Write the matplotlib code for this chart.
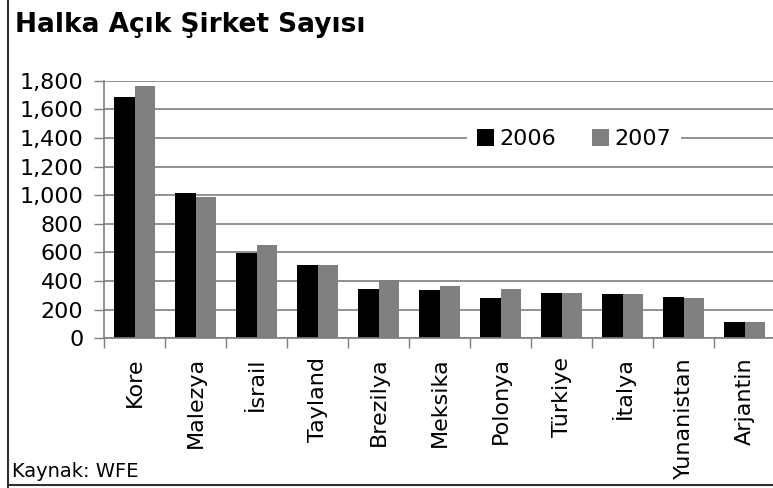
import numpy as np
import matplotlib
matplotlib.use("Agg")
import matplotlib.pyplot as plt
from matplotlib.lines import Line2D

# dados
paises = ['Kore', 'Malezya', 'İsrail', 'Tayland', 'Brezilya', 'Meksika',
          'Polonya', 'Türkiye', 'İtalya', 'Yunanistan', 'Arjantin']
valores_2006 = [1684, 1015, 598, 512, 345, 338, 282, 319, 310, 289, 114]
valores_2007 = [1763, 987, 652, 512, 405, 365, 345, 317, 310, 282, 114]
anos = ['2006', '2007']
yticks = [0, 200, 400, 600, 800, 1000, 1200, 1400, 1600, 1800]

plt.rcParams['font.family'] = ['DejaVu Sans']
CINZA_GRADE = '#7f7f7f'

fig = plt.figure(figsize=(7.73, 4.88), dpi=100)
ax = fig.add_axes([104.3 / 773, 149.7 / 488, (775 - 104.3) / 773, 257.6 / 488])

x = np.arange(len(paises))
largura = 0.335
ax.bar(x - largura / 2, valores_2006, largura, color='black', label=anos[0], zorder=3)
ax.bar(x + largura / 2, valores_2007, largura, color='#808080', label=anos[1], zorder=3)

ax.set_xlim(-0.5, len(paises) - 0.5)
ax.set_ylim(0, 1800)
ax.set_yticks(yticks)
ax.set_yticklabels(['{:,}'.format(v) for v in yticks])

# ticks do eixo x ficam entre as categorias
ax.set_xticks(np.arange(len(paises) + 1) - 0.5)
ax.set_xticklabels([])
ax.set_xticks(x, minor=True)
ax.set_xticklabels(paises, minor=True, rotation=90, fontsize=16)
ax.tick_params(axis='x', which='minor', length=0, pad=13.5)
ax.tick_params(axis='x', which='major', length=7, width=1, color=CINZA_GRADE)
ax.tick_params(axis='y', length=7.5, width=1, color=CINZA_GRADE, labelsize=16, pad=7.5)

ax.grid(axis='y', color=CINZA_GRADE, linewidth=1.2, zorder=0)
for lado in ['top', 'right']:
    ax.spines[lado].set_visible(False)
for lado in ['left', 'bottom']:
    ax.spines[lado].set_color(CINZA_GRADE)
    ax.spines[lado].set_linewidth(1.2)
ax.spines['bottom'].set_zorder(4)

leg = ax.legend(loc='center', bbox_to_anchor=((574 - 104.3) / 670.7, (338.3 - 139) / 257.6),
                ncol=2, fontsize=16, frameon=True, fancybox=False, framealpha=1,
                edgecolor='white', handlelength=0.77, handleheight=0.77,
                handletextpad=0.25, columnspacing=1.6, borderpad=0.45,
                borderaxespad=0)
leg.get_frame().set_linewidth(0)

fig.text(15 / 773, 1 - 32 / 488, 'Halka Açık Şirket Sayısı', fontsize=19,
         fontweight='bold', va='baseline', ha='left')
fig.text(12 / 773, 1 - 477 / 488, 'Kaynak: WFE', fontsize=14, va='baseline', ha='left')

# moldura (so esquerda e embaixo aparecem)
fig.add_artist(Line2D([8 / 773, 8 / 773], [0, 1], color='#303030', linewidth=1.5,
                      transform=fig.transFigure))
fig.add_artist(Line2D([8 / 773, 1], [3 / 488, 3 / 488], color='#303030', linewidth=1.5,
                      transform=fig.transFigure))

fig.savefig('out.png', dpi=100)
